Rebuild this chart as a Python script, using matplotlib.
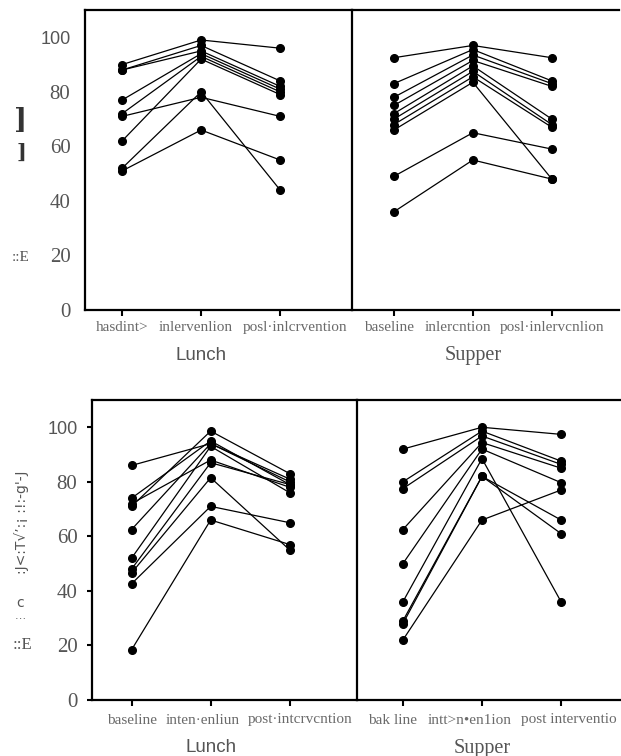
import matplotlib
matplotlib.use("Agg")
import matplotlib.pyplot as plt

# values (percent), one list per phase
top_lunch_base = [90, 88, 88, 77, 72, 71, 62, 52, 51]
top_lunch_int = [99, 97, 95, 94, 93, 78, 92, 80, 66]
top_lunch_post = [96, 84, 82, 81, 80, 71, 79, 44, 55]

top_supper_base = [92.5, 83, 78, 75, 72, 70, 68, 66, 49, 36]
top_supper_int = [97, 95.5, 93.5, 91.5, 89.5, 87.5, 85.5, 83.5, 65, 55]
top_supper_post = [92.5, 84, 83, 82, 70, 68, 67, 48, 59, 48]

bot_lunch_base = [86, 74, 72, 71, 62.5, 52, 48, 46.6, 42.6, 18.4]
bot_lunch_int = [94, 95, 88, 98.6, 94, 93, 87, 81.5, 71, 66]
bot_lunch_post = [80, 79, 78, 83, 81, 76, 79, 55, 65, 57]

bot_supper_base = [92, 80, 77.5, 62.5, 50, 36, 29, 28, 22]
bot_supper_int = [100, 98.6, 96.8, 94.4, 92, 88.5, 82, 82, 66]
bot_supper_post = [97.4, 87.6, 86.4, 85, 79.7, 36, 66, 61, 77]

# tick texts as they appear in the scan (last one is cut by the page edge)
top_lunch_ticks = ["hasdint>", "inlervenlion", "posl\u00b7inlcrvention"]
top_supper_ticks = ["baseline", "inlercntion", "posl\u00b7inlervcnlion"]
bot_lunch_ticks = ["baseline", "inten\u00b7enliun", "post\u00b7intcrvcntion"]
bot_supper_ticks = ["bak line", "intt>n\u2022en1ion", "post interventio"]
y_ticks = [0, 20, 40, 60, 80, 100]

W, H = 621, 756
fig = plt.figure(figsize=(W / 100, H / 100), dpi=100)


def box(x0, x1, y0, y1):
    # pixel box -> figure fraction
    return [x0 / W, 1 - y1 / H, (x1 - x0) / W, (y1 - y0) / H]


def panel(ax, base, inter, post, ticks, shifts, dy, xlim, ylen, first):
    for b, i, p in zip(base, inter, post):
        ax.plot([0, 1, 2], [b, i, p], color="black", lw=0.9,
                marker="o", ms=5.5, clip_on=False)
    ax.set_xlim(xlim)
    ax.set_ylim(0, 110)
    ax.set_xticks([0, 1, 2])
    ax.set_xticklabels([])
    ax.tick_params(axis="x", direction="out", length=4, width=1.5)
    # the scanned labels sit a little off their ticks
    for k, (t, s) in enumerate(zip(ticks, shifts)):
        ax.annotate(t, xy=(k, 0), xycoords=("data", "axes fraction"),
                    xytext=(s, dy), textcoords="offset pixels", ha="center",
                    va="center", fontfamily="Liberation Serif", fontsize=11,
                    color="#6a6a6a", annotation_clip=False)
    for s in ax.spines.values():
        s.set_linewidth(1.6)
    ax.spines["right"].set_visible(False)
    if first:
        ax.set_yticks(y_ticks)
        ax.set_yticklabels([str(v) for v in y_ticks],
                           fontfamily="Liberation Serif", fontsize=15,
                           color="#555555")
        ax.get_yticklabels()[-1].set_fontfamily("Liberation Sans")
        ax.get_yticklabels()[-1].set_fontsize(13)
        ax.tick_params(axis="y", direction="out", length=ylen, width=1.5,
                       pad=10.5 - ylen)
    else:
        ax.set_yticks([])


def group_label(ax, text, family, size, dy):
    ax.annotate(text, xy=(1, 0), xycoords=("data", "axes fraction"),
                xytext=(0, dy), textcoords="offset pixels", ha="center",
                va="center", fontfamily=family, fontsize=size, color="#555555")


ax1 = fig.add_axes(box(85, 352, 10, 310))
ax2 = fig.add_axes(box(352, 619, 10, 310))
ax3 = fig.add_axes(box(92, 357, 400, 700))
ax4 = fig.add_axes(box(357, 622, 400, 700))

panel(ax1, top_lunch_base, top_lunch_int, top_lunch_post, top_lunch_ticks,
      [0, -5, 15], -18, (-0.47, 2.91), 0, True)
panel(ax2, top_supper_base, top_supper_int, top_supper_post, top_supper_ticks,
      [-5, -15, 0], -18, (-0.53, 2.85), 0, False)
panel(ax3, bot_lunch_base, bot_lunch_int, bot_lunch_post, bot_lunch_ticks,
      [0, -8, 10], -20, (-0.5, 2.85), 3.6, True)
panel(ax4, bot_supper_base, bot_supper_int, bot_supper_post, bot_supper_ticks,
      [-10, -12, 8], -20, (-0.58, 2.77), 0, False)

group_label(ax1, "Lunch", "Liberation Sans", 13.5, -46)
group_label(ax2, "Supper", "Liberation Serif", 14.5, -46)
group_label(ax3, "Lunch", "Liberation Sans", 13.5, -47)
group_label(ax4, "Supper", "Liberation Serif", 14.5, -48)

# garbled axis titles from the scan
fig.text(21 / W, 1 - 121 / H, "]", fontfamily="DejaVu Serif", fontsize=20,
         fontweight="bold", color="#333333", ha="center", va="center")
fig.text(21 / W, 1 - 153 / H, "]", fontfamily="DejaVu Serif", fontsize=15,
         fontweight="bold", color="#333333", ha="center", va="center")
fig.text(21 / W, 1 - 257 / H, "::E", fontfamily="Liberation Serif",
         fontsize=11, color="#555555", ha="center", va="center")
fig.text(22 / W, 1 - 522 / H, ":J<:T\u221a\u2019:\u00a1 :!:-g'-J",
         fontfamily="DejaVu Sans", fontsize=10, color="#555555",
         ha="center", va="center", rotation=90)
fig.text(20 / W, 1 - 603 / H, "c", fontfamily="DejaVu Sans", fontsize=10,
         color="#555555", ha="center", va="center")
fig.text(20 / W, 1 - 616 / H, "\u2026", fontfamily="DejaVu Sans", fontsize=8,
         color="#555555", ha="center", va="center")
fig.text(22 / W, 1 - 645 / H, "::E", fontfamily="Liberation Serif",
         fontsize=12, color="#555555", ha="center", va="center")

fig.savefig("out.png", dpi=100)
